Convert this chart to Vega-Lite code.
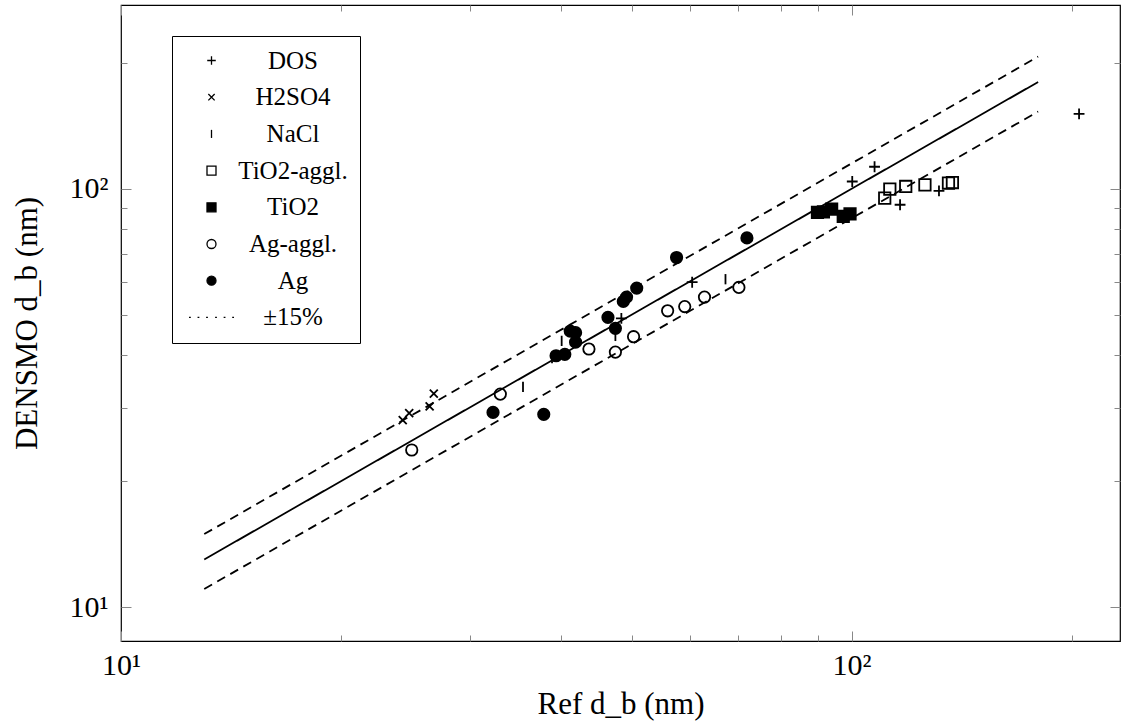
{
  "$schema": "https://vega.github.io/schema/vega-lite/v6.json",
  "width": 999,
  "height": 636,
  "autosize": {"type": "none"},
  "padding": {"left": 121, "top": 5, "right": 10, "bottom": 85},
  "background": "white",
  "config": {"view": {"stroke": "black", "strokeWidth": 1.2}, "font": "Liberation Serif"},
  "datasets": {
    "pts": [
      {"series": "DOS", "ref": 204.8, "densmo": 151},
      {"series": "DOS", "ref": 107.5, "densmo": 112.9},
      {"series": "DOS", "ref": 100.2, "densmo": 104.1},
      {"series": "DOS", "ref": 116.5, "densmo": 91.6},
      {"series": "DOS", "ref": 131.7, "densmo": 98.9},
      {"series": "DOS", "ref": 60.5, "densmo": 59.8},
      {"series": "DOS", "ref": 48.4, "densmo": 49.0},
      {"series": "H2SO4", "ref": 24.3, "densmo": 28.0},
      {"series": "H2SO4", "ref": 24.8, "densmo": 29.1},
      {"series": "H2SO4", "ref": 26.45, "densmo": 30.2},
      {"series": "H2SO4", "ref": 26.8, "densmo": 32.4},
      {"series": "NaCl", "ref": 35.5, "densmo": 33.6},
      {"series": "NaCl", "ref": 38.9, "densmo": 39.4},
      {"series": "NaCl", "ref": 40.1, "densmo": 43.3},
      {"series": "NaCl", "ref": 47.5, "densmo": 44.5},
      {"series": "NaCl", "ref": 67.2, "densmo": 60.8},
      {"series": "TiO2-aggl.", "ref": 111, "densmo": 95.0},
      {"series": "TiO2-aggl.", "ref": 112.8, "densmo": 99.8},
      {"series": "TiO2-aggl.", "ref": 118.6, "densmo": 101.3},
      {"series": "TiO2-aggl.", "ref": 126, "densmo": 102.2},
      {"series": "TiO2-aggl.", "ref": 135.7, "densmo": 103.2},
      {"series": "TiO2-aggl.", "ref": 137.4, "densmo": 103.5},
      {"series": "TiO2", "ref": 89.8, "densmo": 87.8},
      {"series": "TiO2", "ref": 91.5, "densmo": 88.1},
      {"series": "TiO2", "ref": 93.9, "densmo": 89.4},
      {"series": "TiO2", "ref": 97.4, "densmo": 85.9},
      {"series": "TiO2", "ref": 99.5, "densmo": 87.1},
      {"series": "Ag-aggl.", "ref": 25.0, "densmo": 23.75},
      {"series": "Ag-aggl.", "ref": 33.05, "densmo": 32.3},
      {"series": "Ag-aggl.", "ref": 43.7, "densmo": 41.4},
      {"series": "Ag-aggl.", "ref": 47.5, "densmo": 40.7},
      {"series": "Ag-aggl.", "ref": 50.3, "densmo": 44.3},
      {"series": "Ag-aggl.", "ref": 56.0, "densmo": 51.1},
      {"series": "Ag-aggl.", "ref": 59.1, "densmo": 52.3},
      {"series": "Ag-aggl.", "ref": 62.9, "densmo": 55.1},
      {"series": "Ag-aggl.", "ref": 70.1, "densmo": 58.1},
      {"series": "Ag", "ref": 32.3, "densmo": 29.2},
      {"series": "Ag", "ref": 37.9, "densmo": 28.9},
      {"series": "Ag", "ref": 39.4, "densmo": 39.9},
      {"series": "Ag", "ref": 40.5, "densmo": 40.2},
      {"series": "Ag", "ref": 41.2, "densmo": 45.7},
      {"series": "Ag", "ref": 41.9, "densmo": 45.3},
      {"series": "Ag", "ref": 41.9, "densmo": 43.0},
      {"series": "Ag", "ref": 46.4, "densmo": 49.3},
      {"series": "Ag", "ref": 47.5, "densmo": 46.4},
      {"series": "Ag", "ref": 48.7, "densmo": 53.8},
      {"series": "Ag", "ref": 49.2, "densmo": 55.1},
      {"series": "Ag", "ref": 50.8, "densmo": 57.9},
      {"series": "Ag", "ref": 57.6, "densmo": 68.5},
      {"series": "Ag", "ref": 71.9, "densmo": 76.3}
    ],
    "lines": [
      {"line": "exact", "style": "solid", "x": 13, "y": 13},
      {"line": "exact", "style": "solid", "x": 180, "y": 180},
      {"line": "upper", "style": "dashed", "x": 13, "y": 14.95},
      {"line": "upper", "style": "dashed", "x": 180, "y": 207},
      {"line": "lower", "style": "dashed", "x": 13, "y": 11.05},
      {"line": "lower", "style": "dashed", "x": 180, "y": 153}
    ]
  },
  "layer": [
    {
      "data": {"name": "lines"},
      "mark": {"type": "line", "color": "black", "strokeWidth": 1.8},
      "encoding": {
        "x": {"field": "x", "type": "quantitative",
          "scale": {"type": "log", "domain": [10, 233], "nice": false},
          "axis": {"orient": "bottom", "values": [10, 100], "labelExpr": "datum.value == 10 ? '10¹' : '10²'",
            "tickSize": -10, "tickColor": "#888", "tickWidth": 1, "domain": false, "grid": false,
            "labelFont": "Liberation Serif", "labelFontSize": 30, "labelColor": "black", "labelPadding": 19,
            "labelFlush": false, "labelOverlap": false,
            "title": "Ref d_b (nm)", "titleFont": "Liberation Serif", "titleFontSize": 31, "titleFontWeight": "normal", "titleColor": "black", "titlePadding": 9}},
        "y": {"field": "y", "type": "quantitative",
          "scale": {"type": "log", "domain": [8.3, 275], "nice": false},
          "axis": {"orient": "left", "values": [10, 100], "labelExpr": "datum.value == 10 ? '10¹' : '10²'",
            "tickSize": -10, "tickColor": "#888", "tickWidth": 1, "domain": false, "grid": false,
            "labelFont": "Liberation Serif", "labelFontSize": 30, "labelColor": "black", "labelPadding": 23,
            "labelFlush": false, "labelOverlap": false,
            "title": "DENSMO d_b (nm)", "titleFont": "Liberation Serif", "titleFontSize": 31, "titleFontWeight": "normal", "titleColor": "black", "titlePadding": 26}},
        "detail": {"field": "line", "type": "nominal"},
        "strokeDash": {"field": "style", "type": "nominal", "scale": {"domain": ["solid", "dashed"], "range": [[1, 0], [9, 6]]}, "legend": null}
      }
    },
    {
      "data": {"name": "pts"},
      "mark": {"type": "point", "filled": true, "stroke": "black", "strokeWidth": 1.8, "opacity": 1, "size": 130},
      "encoding": {
        "x": {"field": "ref", "type": "quantitative",
          "axis": {"orient": "bottom", "values": [20, 30, 40, 50, 60, 70, 80, 90, 200], "labels": false, "tickSize": -6, "tickColor": "#888", "domain": false, "grid": false, "title": null}},
        "y": {"field": "densmo", "type": "quantitative",
          "axis": {"orient": "left", "values": [20, 30, 40, 50, 60, 70, 80, 90, 200], "labels": false, "tickSize": -6, "tickColor": "#888", "domain": false, "grid": false, "title": null}},
        "shape": {"field": "series", "type": "nominal",
          "scale": {"domain": ["DOS", "H2SO4", "NaCl", "TiO2-aggl.", "TiO2", "Ag-aggl.", "Ag", "±15%"],
            "range": ["M-0.95,0H0.95M0,-0.95V0.95", "M-0.7,-0.7L0.7,0.7M-0.7,0.7L0.7,-0.7", "M0,-0.9V0.9", "square", "square", "circle", "circle",
              "M-5,0H-4.6M-3.1,0H-2.7M-1.2,0H-0.8M0.8,0H1.2M2.7,0H3.1M4.6,0H5"]},
          "legend": {"title": null, "orient": "none", "legendX": 51, "legendY": 31, "strokeColor": "black", "fillColor": "white", "padding": 12, "cornerRadius": 0,
            "symbolSize": 81, "symbolStrokeWidth": 1.3, "symbolStrokeColor": "black", "symbolOpacity": 1, "symbolOffset": 15,
            "labelFont": "Liberation Serif", "labelFontSize": 25, "labelColor": "black", "labelAlign": "center", "labelOffset": 69, "rowPadding": 10.7, "labelLimit": 300,
            "encode": {"symbols": {"update": {"stroke": {"value": "black"}, "strokeWidth": {"value": 1.3}}}}}},
        "fill": {"field": "series", "type": "nominal",
          "scale": {"domain": ["DOS", "H2SO4", "NaCl", "TiO2-aggl.", "TiO2", "Ag-aggl.", "Ag", "±15%"],
            "range": ["transparent", "transparent", "transparent", "transparent", "black", "transparent", "black", "transparent"]},
          "legend": {"title": null, "orient": "none", "legendX": 51, "legendY": 31, "strokeColor": "black", "fillColor": "white", "padding": 12, "cornerRadius": 0,
            "symbolSize": 81, "symbolStrokeWidth": 1.3, "symbolStrokeColor": "black", "symbolOpacity": 1, "symbolOffset": 15,
            "labelFont": "Liberation Serif", "labelFontSize": 25, "labelColor": "black", "labelAlign": "center", "labelOffset": 69, "rowPadding": 10.7, "labelLimit": 300,
            "encode": {"symbols": {"update": {"stroke": {"value": "black"}, "strokeWidth": {"value": 1.3}}}}}}
      }
    },
    {
      "data": {"name": "lines"},
      "mark": {"type": "line", "opacity": 0},
      "encoding": {
        "x": {"field": "x", "type": "quantitative",
          "axis": {"orient": "top", "values": [10, 100], "labels": false, "tickSize": -10, "tickColor": "#888", "domain": false, "grid": false, "title": null}},
        "y": {"field": "y", "type": "quantitative",
          "axis": {"orient": "right", "values": [10, 100], "labels": false, "tickSize": -10, "tickColor": "#888", "domain": false, "grid": false, "title": null}},
        "detail": {"field": "line", "type": "nominal"}
      }
    },
    {
      "data": {"name": "lines"},
      "mark": {"type": "line", "opacity": 0},
      "encoding": {
        "x": {"field": "x", "type": "quantitative",
          "axis": {"orient": "top", "values": [20, 30, 40, 50, 60, 70, 80, 90, 200], "labels": false, "tickSize": -6, "tickColor": "#888", "domain": false, "grid": false, "title": null}},
        "y": {"field": "y", "type": "quantitative",
          "axis": {"orient": "right", "values": [20, 30, 40, 50, 60, 70, 80, 90, 200], "labels": false, "tickSize": -6, "tickColor": "#888", "domain": false, "grid": false, "title": null}},
        "detail": {"field": "line", "type": "nominal"}
      }
    }
  ],
  "resolve": {"axis": {"x": "independent", "y": "independent"}}
}
